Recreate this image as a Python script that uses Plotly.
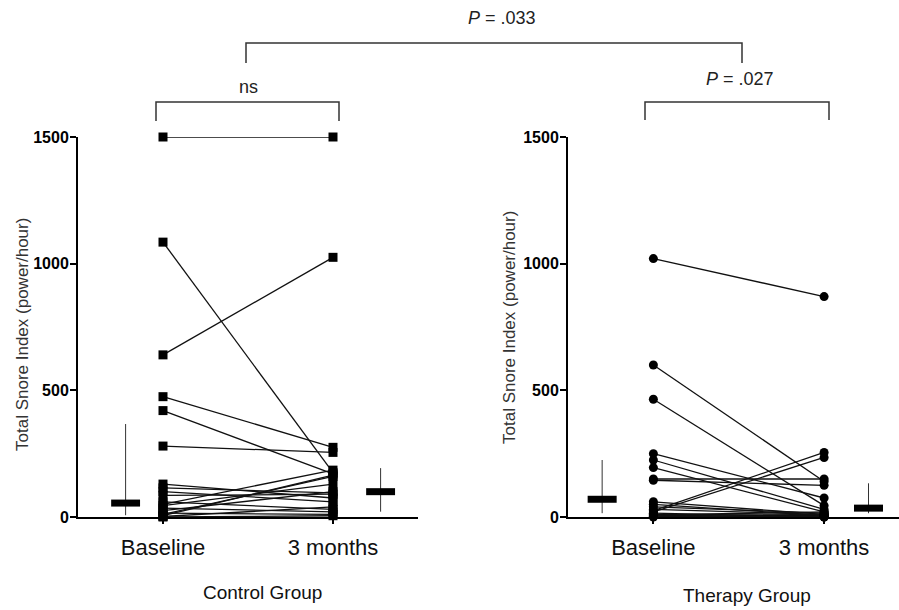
import plotly.graph_objects as go

# ---------------- data ----------------
categories = ["Baseline", "3 months"]
cat_pos = [0, 1]

control_baseline = [1500, 1085, 640, 475, 420, 280, 130, 115, 100, 85, 60, 50, 45, 35, 25, 15, 10, 5, 2, 0]
control_3m       = [1500, 175, 1025, 275, 170, 255, 75, 95, 60, 90, 30, 185, 130, 20, 100, 10, 160, 165, 40, 5]

therapy_baseline = [1020, 600, 465, 250, 225, 195, 150, 145, 60, 50, 40, 30, 25, 20, 15, 10, 8, 5, 3, 0]
therapy_3m       = [870, 140, 45, 75, 30, 20, 150, 125, 10, 5, 15, 10, 255, 235, 0, 5, 20, 10, 0, 3]

# summary bars (median) and whiskers (low/high) drawn beside each column
control_median = [55, 100]
control_low = [7, 21]
control_high = [367, 193]
therapy_median = [70, 35]
therapy_low = [15, 15]
therapy_high = [225, 133]

yticks = [0, 500, 1000, 1500]
group_titles = ["Control Group", "Therapy Group"]
y_title = "Total Snore Index (power/hour)"
p_labels = ["ns", "<i>P</i> = .027", "<i>P</i> = .033"]

# ---------------- layout helpers ----------------
W, H = 899, 610
FONT = "Liberation Sans, Arial, Helvetica, sans-serif"


def fx(px):
    return px / W


def fy(py):
    return 1 - py / H


fig = go.Figure()


def add_panel(base, after, med, lo, hi, summ_pos, xa, ya, symbol):
    xs, ys = [], []
    for a, b in zip(base, after):
        xs += [cat_pos[0], cat_pos[1], None]
        ys += [a, b, None]
    fig.add_trace(go.Scatter(x=xs, y=ys, mode="lines", xaxis=xa, yaxis=ya,
                             line=dict(color="#111111", width=1.3),
                             hoverinfo="skip", showlegend=False, cliponaxis=False))
    fig.add_trace(go.Scatter(x=[cat_pos[0]] * len(base) + [cat_pos[1]] * len(after),
                             y=list(base) + list(after), mode="markers",
                             xaxis=xa, yaxis=ya,
                             marker=dict(symbol=symbol, size=9, color="#000000"),
                             showlegend=False, cliponaxis=False))
    for i in range(2):
        fig.add_trace(go.Scatter(x=[summ_pos[i], summ_pos[i]], y=[lo[i], hi[i]],
                                 mode="lines", xaxis=xa, yaxis=ya,
                                 line=dict(color="#333333", width=1),
                                 showlegend=False, cliponaxis=False))
        fig.add_trace(go.Scatter(x=[summ_pos[i] - 0.085, summ_pos[i] + 0.085],
                                 y=[med[i], med[i]], mode="lines", xaxis=xa, yaxis=ya,
                                 line=dict(color="#000000", width=7),
                                 showlegend=False, cliponaxis=False))


add_panel(control_baseline, control_3m, control_median, control_low, control_high,
          [-0.22, 1.28], "x", "y", "square")
add_panel(therapy_baseline, therapy_3m, therapy_median, therapy_low, therapy_high,
          [-0.30, 1.26], "x2", "y2", "circle")

ydom = [fy(517), fy(137)]
xaxis_common = dict(
    automargin=False,
    showline=True, linecolor="#000000", linewidth=2,
    showgrid=False, zeroline=False,
    tickmode="array", tickvals=cat_pos, ticktext=categories,
    ticks="outside", ticklen=5, tickwidth=2, tickcolor="#000000",
    tickfont=dict(family=FONT, size=22, color="#111111"),
    ticklabelstandoff=5,
)
yaxis_common = dict(
    automargin=False,
    showline=True, linecolor="#000000", linewidth=2,
    showgrid=False, zeroline=False, range=[0, 1500], domain=ydom,
    tickmode="array", tickvals=yticks, ticktext=[str(v) for v in yticks],
    ticks="outside", ticklen=6, tickwidth=2, tickcolor="#000000",
    tickfont=dict(family=FONT, size=16, color="#000000", weight="bold"),
    ticklabelstandoff=-2,
)

fig.update_layout(
    template="none",
    width=W, height=H, autosize=False,
    margin=dict(l=0, r=0, t=0, b=0, pad=0),
    paper_bgcolor="white", plot_bgcolor="white",
    font=dict(family=FONT, color="#222222"),
    xaxis=dict(domain=[fx(78), fx(418)], range=[-0.5, 1.5], anchor="y", **xaxis_common),
    yaxis=dict(anchor="x", **yaxis_common),
    xaxis2=dict(domain=[fx(568), 1.0], range=[-0.5, (899 - 653) / 171], anchor="y2", **xaxis_common),
    yaxis2=dict(anchor="x2", **yaxis_common),
    showlegend=False,
)

annots = []
# y-axis titles
for xp, yp in [(22, 335), (509, 327)]:
    annots.append(dict(x=fx(xp), y=fy(yp), xref="paper", yref="paper", text=y_title,
                       textangle=-90, showarrow=False, xanchor="center", yanchor="middle",
                       font=dict(family=FONT, size=17, color="#333333")))
# group titles
for t, (xp, yp) in zip(group_titles, [(262, 592), (747, 595)]):
    annots.append(dict(x=fx(xp), y=fy(yp), xref="paper", yref="paper", text=t,
                       showarrow=False, xanchor="center", yanchor="middle",
                       font=dict(family=FONT, size=19, color="#111111")))
# significance labels
for t, (xp, yp) in zip(p_labels, [(248, 87), (740, 79), (502, 18)]):
    annots.append(dict(x=fx(xp), y=fy(yp), xref="paper", yref="paper", text=t,
                       showarrow=False, xanchor="center", yanchor="middle",
                       font=dict(family=FONT, size=18, color="#222222")))
fig.update_layout(annotations=annots)

# brackets
shapes = []
for x1, x2, ytop, ybot in [(156, 339, 102, 121), (645, 829, 102, 120), (246, 742, 43, 63)]:
    path = "M {a},{b} L {a},{c} L {d},{c} L {d},{e}".format(
        a=fx(x1), b=fy(ybot), c=fy(ytop), d=fx(x2), e=fy(ybot))
    shapes.append(dict(type="path", path=path, xref="paper", yref="paper",
                       line=dict(color="#333333", width=1.5)))
fig.update_layout(shapes=shapes)

fig.write_html(
    "out.html",
    config={"displayModeBar": False},
    post_script="document.body.style.margin='0px';document.body.style.overflow='hidden';",
)
